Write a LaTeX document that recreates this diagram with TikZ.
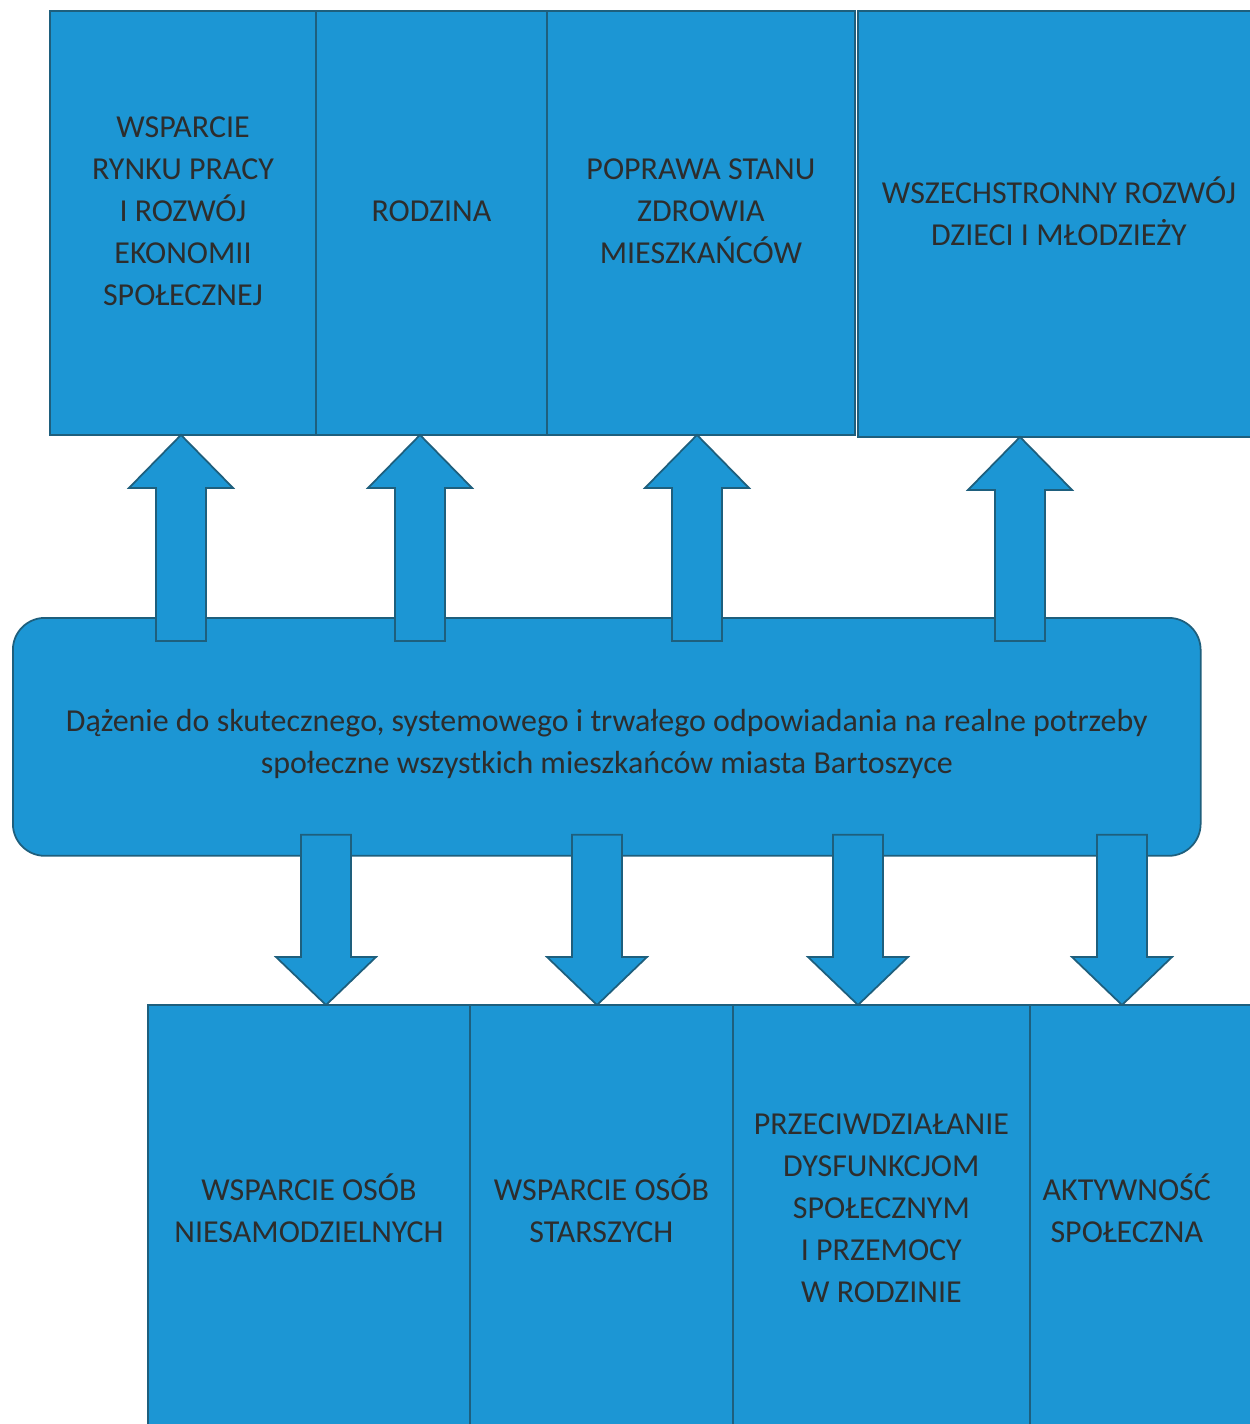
\documentclass[tikz,border=0pt]{standalone}
\usepackage{fontspec}
\setmainfont{Carlito}
\usetikzlibrary{
positioning,%
calc
}
\definecolor{boxblue}{RGB}{28,150,212}
\definecolor{boxline}{RGB}{30,95,125}
\definecolor{txtgray}{RGB}{45,45,45}
\tikzset{
    area/.style={draw=boxline, fill=boxblue, line width=1pt, rectangle, inner sep=0pt, outer sep=0pt, minimum height=8.48cm},
    lowarea/.style={area, minimum height=8.8cm},
    goalbox/.style={draw=boxline, fill=boxblue, line width=1pt, rounded corners=0.64cm, inner sep=0pt},
    lbl/.style={text=txtgray, align=center, font=\fontsize{18.2}{23.9}\selectfont},
    blockarr/.style={draw=boxline, fill=boxblue, line width=1pt, line join=miter}
}
% block arrows: foot anchor, tip anchor, x position
\newcommand{\uparr}[3]{%
  \filldraw[blockarr] ($(#1 -| #3,0)+(-25,24)$) -- ($(#2 -| #3,0)+(-25,53)$)
    -- ($(#2 -| #3,0)+(-52,53)$) -- (#2 -| #3,0) -- ($(#2 -| #3,0)+(52,53)$)
    -- ($(#2 -| #3,0)+(25,53)$) -- ($(#1 -| #3,0)+(25,24)$) -- cycle;}
\newcommand{\downarr}[3]{%
  \filldraw[blockarr] ($(#1 -| #3,0)+(-25,-22)$) -- ($(#2 -| #3,0)+(-25,-48)$)
    -- ($(#2 -| #3,0)+(-50,-48)$) -- (#2 -| #3,0) -- ($(#2 -| #3,0)+(50,-48)$)
    -- ($(#2 -| #3,0)+(25,-48)$) -- ($(#1 -| #3,0)+(25,-22)$) -- cycle;}

\begin{document}
\begin{tikzpicture}[x=0.02cm, y=-0.02cm]
            \useasboundingbox (0,0) rectangle (1250,1424);
            \node[area, anchor=north west, minimum width=5.32cm,
                label={[lbl, yshift=0.24cm]center:WSPARCIE\\RYNKU PRACY\\I ROZWÓJ\\EKONOMII\\SPOŁECZNEJ}] (work) at (50,11) {};
            \node[area, minimum width=4.62cm, right=0pt of work,
                label={[lbl, yshift=0.24cm]center:RODZINA}] (family) {};
            \node[area, minimum width=6.16cm, right=0pt of family,
                label={[lbl, yshift=0.24cm]center:POPRAWA STANU\\ZDROWIA\\MIESZKAŃCÓW}] (health) {};
            \node[area, anchor=north west, minimum width=8.04cm, minimum height=8.52cm,
                label={[lbl, yshift=0.26cm]center:WSZECHSTRONNY ROZWÓJ\\DZIECI I MŁODZIEŻY}] (youth) at (858,11) {};
            \node[goalbox, anchor=north west, minimum width=23.76cm, minimum height=4.76cm,
                label={[lbl, yshift=-0.14cm]center:Dążenie do skutecznego, systemowego i trwałego odpowiadania na realne potrzeby\\społeczne wszystkich mieszkańców miasta Bartoszyce}] (goal) at (12,617) {};
            \node[lowarea, anchor=north west, minimum width=6.44cm,
                label={[lbl, yshift=0.34cm]center:WSPARCIE OSÓB\\NIESAMODZIELNYCH}] (dependent) at (148,1005) {};
            \node[lowarea, minimum width=5.26cm, right=0pt of dependent,
                label={[lbl, yshift=0.34cm]center:WSPARCIE OSÓB\\STARSZYCH}] (elderly) {};
            \node[lowarea, minimum width=5.94cm, right=0pt of elderly,
                label={[lbl, yshift=0.34cm]center:PRZECIWDZIAŁANIE\\DYSFUNKCJOM\\SPOŁECZNYM\\I PRZEMOCY\\W RODZINIE}] (violence) {};
            \node[lowarea, minimum width=4.6cm, right=0pt of violence,
                label={[lbl, yshift=0.34cm, xshift=-0.36cm]center:AKTYWNOŚĆ\\SPOŁECZNA}] (activity) {};
            \uparr{goal.north}{work.south}{181}
            \uparr{goal.north}{family.south}{420}
            \uparr{goal.north}{health.south}{697}
            \uparr{goal.north}{youth.south}{1020}
            \downarr{goal.south}{dependent.north}{326}
            \downarr{goal.south}{elderly.north}{597}
            \downarr{goal.south}{violence.north}{858}
            \downarr{goal.south}{activity.north}{1122}
        \end{tikzpicture}
\end{document}
